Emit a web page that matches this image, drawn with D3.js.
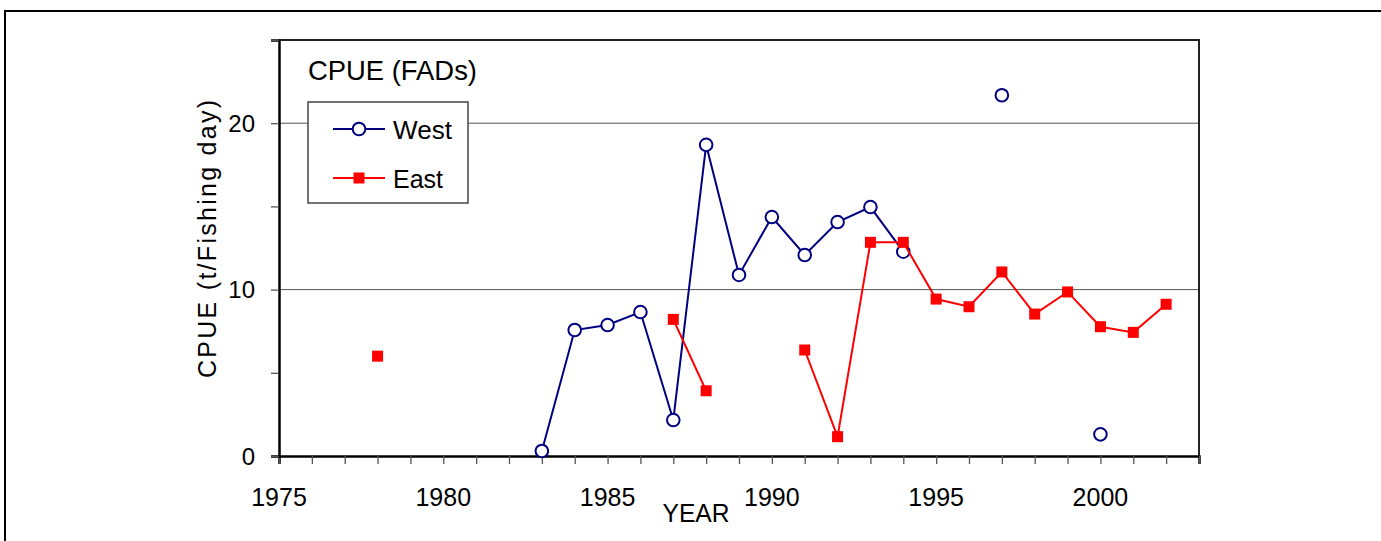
<!DOCTYPE html>
<html>
<head>
<meta charset="utf-8">
<script src="https://cdn.jsdelivr.net/npm/d3@7/dist/d3.min.js"></script>
<style>
  body { margin: 0; background: #fff; }
  text { font-family: "Liberation Sans", Arial, sans-serif; fill: #000; }
</style>
</head>
<body>
<div id="chart"></div>
<script>
// CPUE (FADs) by year, West vs East
var years = [1978, 1979, 1980, 1981, 1982, 1983, 1984, 1985, 1986, 1987, 1988, 1989,
  1990, 1991, 1992, 1993, 1994, 1995, 1996, 1997, 1998, 1999, 2000, 2001, 2002];
var west = [null, null, null, null, null, 0.3, 7.57, 7.87, 8.65, 2.16, 18.7, 10.88,
  14.36, 12.08, 14.06, 14.96, 12.28, null, null, 21.68, null, null, 1.3, null, null];
var east = [6.0, null, null, null, null, null, null, null, null, 8.21, 3.92, null,
  null, 6.37, 1.16, 12.84, 12.84, 9.43, 8.97, 11.06, 8.53, 9.86, 7.77, 7.43, 9.12];
var xLabels = [1975, 1980, 1985, 1990, 1995, 2000];
var yLabels = [0, 10, 20];
var seriesNames = ["West", "East"];

var W = 1381, H = 541;
var svg = d3.select("#chart").append("svg").attr("width", W).attr("height", H);

var x = d3.scaleLinear().domain([1975, 2003]).range([279, 1199]);
var y = d3.scaleLinear().domain([0, 25]).range([456, 40]);

// outer frame (only top/left are visible in the reference)
svg.append("path").attr("d", "M5," + H + "V11H" + W)
  .attr("fill", "none").attr("stroke", "#000").attr("stroke-width", 2);

// gridlines
svg.append("g").selectAll("line").data([10, 20]).enter().append("line")
  .attr("x1", x(1975)).attr("x2", x(2003))
  .attr("y1", d => y(d)).attr("y2", d => y(d))
  .attr("stroke", "#555").attr("stroke-width", 1);

// plot box top/right
svg.append("path").attr("d", "M" + x(1975) + "," + y(25) + "H" + x(2003) + "V" + y(0))
  .attr("fill", "none").attr("stroke", "#222").attr("stroke-width", 2);

// x axis
var xAxis = svg.append("g").attr("transform", "translate(0," + y(0) + ")")
  .call(d3.axisBottom(x).tickValues(d3.range(1975, 2004)).tickSize(8).tickFormat(""));
xAxis.select(".domain").attr("stroke", "#000").attr("stroke-width", 2.5);
xAxis.selectAll(".tick line").attr("stroke", "#555").attr("stroke-width", 1.3);

svg.append("g").selectAll("text").data(xLabels).enter().append("text")
  .attr("x", d => x(d)).attr("y", 506).attr("text-anchor", "middle")
  .style("font-size", "25px").text(d => d);

// y axis
var yAxis = svg.append("g").attr("transform", "translate(" + x(1975) + ",0)")
  .call(d3.axisLeft(y).tickValues([0, 5, 10, 15, 20, 25]).tickSize(8).tickFormat(""));
yAxis.select(".domain").attr("stroke", "#000").attr("stroke-width", 2.5);
yAxis.selectAll(".tick line").attr("stroke", "#555").attr("stroke-width", 1.3);

svg.append("g").selectAll("text").data(yLabels).enter().append("text")
  .attr("x", 255).attr("y", d => y(d)).attr("dy", "0.36em").attr("text-anchor", "end")
  .style("font-size", "24px").text(d => d);

// axis titles
svg.append("text").attr("x", 696).attr("y", 522).attr("text-anchor", "middle")
  .attr("textLength", 67).attr("lengthAdjust", "spacingAndGlyphs")
  .style("font-size", "26px").text("YEAR");

svg.append("text").attr("transform", "translate(216,239) rotate(-90)")
  .attr("text-anchor", "middle").attr("textLength", 278).attr("lengthAdjust", "spacing")
  .style("font-size", "25px").text("CPUE (t/Fishing day)");

// chart title
svg.append("text").attr("x", 308).attr("y", 80)
  .attr("textLength", 169).attr("lengthAdjust", "spacingAndGlyphs")
  .style("font-size", "28px").text("CPUE (FADs)");

// series
var pts = (vals) => years.map((yr, i) => ({ year: yr, value: vals[i] }));
var line = d3.line().defined(d => d.value != null)
  .x(d => x(d.year)).y(d => y(d.value));

var westPts = pts(west), eastPts = pts(east);

svg.append("path").datum(westPts).attr("d", line)
  .attr("fill", "none").attr("stroke", "#000080").attr("stroke-width", 2);
svg.append("g").selectAll("circle").data(westPts.filter(d => d.value != null)).enter()
  .append("circle").attr("cx", d => x(d.year)).attr("cy", d => y(d.value)).attr("r", 6.3)
  .attr("fill", "#fff").attr("stroke", "#000080").attr("stroke-width", 2);

svg.append("path").datum(eastPts).attr("d", line)
  .attr("fill", "none").attr("stroke", "#ff0000").attr("stroke-width", 2);
svg.append("g").selectAll("rect").data(eastPts.filter(d => d.value != null)).enter()
  .append("rect").attr("x", d => x(d.year) - 5.5).attr("y", d => y(d.value) - 5.5)
  .attr("width", 11).attr("height", 11).attr("fill", "#ff0000");

// legend
var lg = svg.append("g");
lg.append("rect").attr("x", 308).attr("y", 102).attr("width", 160).attr("height", 101)
  .attr("fill", "#fff").attr("stroke", "#444").attr("stroke-width", 1.5);
var lgY = [129, 178];
lg.selectAll("line").data(seriesNames).enter().append("line")
  .attr("x1", 333).attr("x2", 385).attr("y1", (d, i) => lgY[i]).attr("y2", (d, i) => lgY[i])
  .attr("stroke", (d, i) => i ? "#ff0000" : "#000080").attr("stroke-width", 2);
lg.append("circle").attr("cx", 359).attr("cy", lgY[0]).attr("r", 6.3)
  .attr("fill", "#fff").attr("stroke", "#000080").attr("stroke-width", 2);
lg.append("rect").attr("x", 359 - 5.5).attr("y", lgY[1] - 5.5).attr("width", 11).attr("height", 11)
  .attr("fill", "#ff0000");
lg.selectAll("text").data(seriesNames).enter().append("text")
  .attr("x", 393).attr("y", (d, i) => lgY[i] + 9.5)
  .attr("textLength", (d, i) => i ? 50 : 59).attr("lengthAdjust", "spacingAndGlyphs")
  .style("font-size", "26px").text(d => d);
</script>
</body>
</html>
